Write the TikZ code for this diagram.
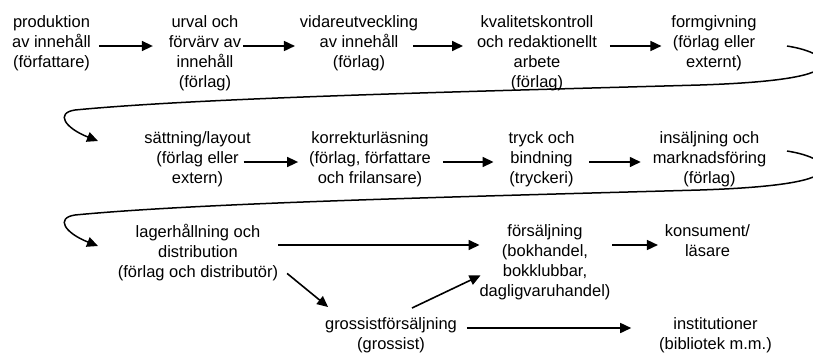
\documentclass[tikz,border=0pt]{standalone}
\usepackage{fontspec}
\setmainfont{Liberation Sans}
\usetikzlibrary{arrows.meta}
\begin{document}
\begin{tikzpicture}[x=1pt,y=-1pt,
  box/.style={inner sep=0pt, outer sep=0pt, align=center, anchor=north,
    font=\fontsize{16.47}{20}\selectfont},
  arr/.style={line width=1.6pt, -{Triangle[length=11pt,width=10pt]}},
  curvearr/.style={line width=1.5pt, -{Triangle[length=11pt,width=10pt]}}]
\useasboundingbox (0,0) rectangle (813,354);
\clip (0,0) rectangle (813,354);
% row 1
\node[box] (p1) at (51.5,13) {\strut produktion\\av innehåll\\(författare)};
\node[box] (p2) at (205,13) {\strut urval och\\förvärv av\\innehåll\\(förlag)};
\node[box] (p3) at (359,13) {\strut vidareutveckling\\av innehåll\\(förlag)};
\node[box] (p4) at (537,13) {\strut kvalitetskontroll\\och redaktionellt\\arbete\\(förlag)};
\node[box] (p5) at (714,13) {\strut formgivning\\(förlag eller\\externt)};
% row 2
\node[box] (q1) at (197.5,129) {\strut sättning/layout\\(förlag eller\\extern)};
\node[box] (q2) at (370,129) {\strut korrekturläsning\\(förlag, författare\\och frilansare)};
\node[box] (q3) at (541.5,129) {\strut tryck och\\bindning\\(tryckeri)};
\node[box] (q4) at (709.5,129) {\strut insäljning och\\marknadsföring\\(förlag)};
% row 3
\node[box] (l) at (198,223) {\strut lagerhållning och\\distribution\\(förlag och distributör)};
\node[box] (f) at (545,222) {\strut försäljning\\(bokhandel,\\bokklubbar,\\dagligvaruhandel)};
\node[box] (k) at (707.5,222) {\strut konsument/\\läsare};
\node[box] (g) at (391,315.5) {\strut grossistförsäljning\\(grossist)};
\node[box] (i) at (715.5,315.5) {\strut institutioner\\(bibliotek m.m.)};
% row levels
\coordinate (y1) at (0,46);
\coordinate (y2) at (0,162);
\coordinate (y3) at (0,245);
\coordinate (y4) at (0,328);
% row 1 arrows
\draw[arr, shorten <=8pt, shorten >=16pt] (p1.east |- y1) -- (p2.west |- y1);
\draw[arr, shorten <=2pt, shorten >=5pt] (p2.east |- y1) -- (p3.west |- y1);
\draw[arr, shorten <=-5pt, shorten >=14pt] (p3.east |- y1) -- (p4.west |- y1);
\draw[arr, shorten <=13pt, shorten >=10pt] (p4.east |- y1) -- (p5.west |- y1);
% row 2 arrows
\draw[arr, shorten <=-7pt, shorten >=11pt] (q1.east |- y2) -- (q2.west |- y2);
\draw[arr, shorten <=12pt, shorten >=15pt] (q2.east |- y2) -- (q3.west |- y2);
\draw[arr, shorten <=15pt, shorten >=12pt] (q3.east |- y2) -- (q4.west |- y2);
% row 3 arrows
\draw[arr] (l.east |- y3) -- (f.west |- y3);
\draw[arr, shorten <=2pt, shorten >=7pt] (f.east |- y3) -- (k.west |- y3);
\draw[arr] ([xshift=9pt,yshift=7pt]l.south east) -- ([xshift=3pt,yshift=8.5pt]g.north west);
\draw[arr] ([xshift=21pt,yshift=7.5pt]g.north) -- ([xshift=1pt,yshift=24pt]f.south west);
\draw[arr, shorten <=10pt, shorten >=28pt] (g.east |- y4) -- (i.west |- y4);
% return curves
\coordinate (c1s) at (787,46);
\coordinate (c1e) at (98,141);
\coordinate (c2s) at (787,151);
\coordinate (c2e) at (98,246);
\draw[curvearr] (c1s) .. controls (812,50) and (826,58) .. (822,66)
  .. controls (815,78) and (760,83) .. (700,85)
  .. controls (450,92) and (200,98) .. (75,110)
  .. controls (55,113) and (65,128) .. (c1e);
\draw[curvearr] (c2s) .. controls (812,155) and (826,163) .. (822,171)
  .. controls (815,183) and (760,188) .. (700,190)
  .. controls (450,197) and (200,203) .. (75,215)
  .. controls (55,218) and (65,233) .. (c2e);
\end{tikzpicture}
\end{document}
